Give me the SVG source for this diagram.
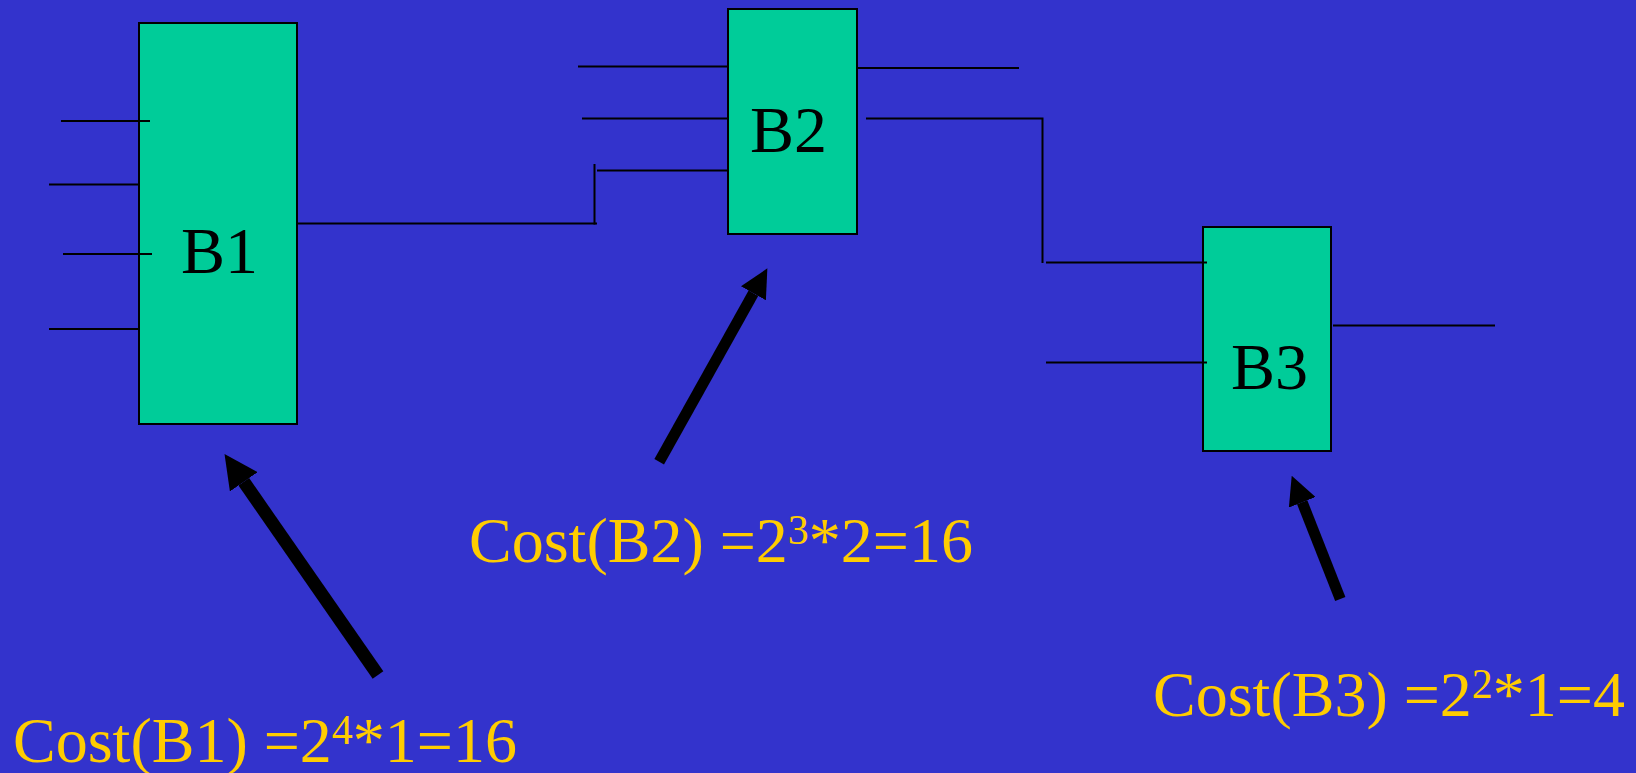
<svg xmlns="http://www.w3.org/2000/svg" width="1636" height="773" viewBox="0 0 1636 773">
<style>
.blk{fill:#00CC99;stroke:#000;stroke-width:2}
.lbl{font-family:"Liberation Serif","Times New Roman",serif;font-size:66px;fill:#000}
.cost{font-family:"Liberation Serif","Times New Roman",serif;font-size:64px;fill:#FFCC00}
.w{stroke:#000;stroke-width:2;fill:none}
.arr{stroke:#000;fill:none;marker-end:url(#ah)}
</style>
<defs>
<marker id="ah" markerUnits="strokeWidth" markerWidth="2.6" markerHeight="2.6" refX="0" refY="1.3" orient="auto" viewBox="0 0 2.6 2.6">
<path d="M0,0 L2.6,1.3 L0,2.6 z" fill="#000"/>
</marker>
</defs>
<rect width="1636" height="773" fill="#3333CC"/>
<g id="B1">
<rect class="blk" x="139" y="23" width="158" height="401"/>
<text class="lbl" x="181" y="273">B1</text>
</g>
<g id="B2">
<rect class="blk" x="728" y="9" width="129" height="225"/>
<text class="lbl" x="750" y="152">B2</text>
</g>
<g id="B3">
<rect class="blk" x="1203" y="227" width="128" height="224"/>
<text class="lbl" x="1231" y="389">B3</text>
</g>
<g id="connectors">
<line class="w" x1="61" y1="121" x2="150" y2="121"/>
<line class="w" x1="49" y1="184.5" x2="139" y2="184.5"/>
<line class="w" x1="63" y1="254" x2="152" y2="254"/>
<line class="w" x1="49" y1="329" x2="139" y2="329"/>
<line class="w" x1="297" y1="223.5" x2="597" y2="223.5"/>
<line class="w" x1="594.5" y1="164" x2="594.5" y2="224.5"/>
<line class="w" x1="597" y1="170.5" x2="728" y2="170.5"/>
<line class="w" x1="578" y1="66.5" x2="728" y2="66.5"/>
<line class="w" x1="582" y1="118.5" x2="728" y2="118.5"/>
<line class="w" x1="857" y1="68" x2="1019" y2="68"/>
<polyline class="w" points="866,118.5 1042.5,118.5 1042.5,263"/>
<line class="w" x1="1046" y1="262.5" x2="1207" y2="262.5"/>
<line class="w" x1="1046" y1="362.5" x2="1207" y2="362.5"/>
<line class="w" x1="1333" y1="325.5" x2="1495" y2="325.5"/>
<line class="arr" stroke-width="13" x1="378" y1="675" x2="243.8" y2="481.8"/>
<line class="arr" stroke-width="11" x1="659.2" y1="461.7" x2="753.4" y2="293.3"/>
<line class="arr" stroke-width="11" x1="1340.3" y1="599" x2="1302.2" y2="502.3"/>
</g>
<g id="cost1"><text class="cost" x="13" y="762">Cost(B1) =2<tspan font-size="42" dy="-18">4</tspan><tspan dy="18">*1=16</tspan></text></g>
<g id="cost2"><text class="cost" x="469" y="562">Cost(B2) =2<tspan font-size="42" dy="-18">3</tspan><tspan dy="18">*2=16</tspan></text></g>
<g id="cost3"><text class="cost" x="1153" y="716">Cost(B3) =2<tspan font-size="42" dy="-18">2</tspan><tspan dy="18">*1=4</tspan></text></g>
</svg>
